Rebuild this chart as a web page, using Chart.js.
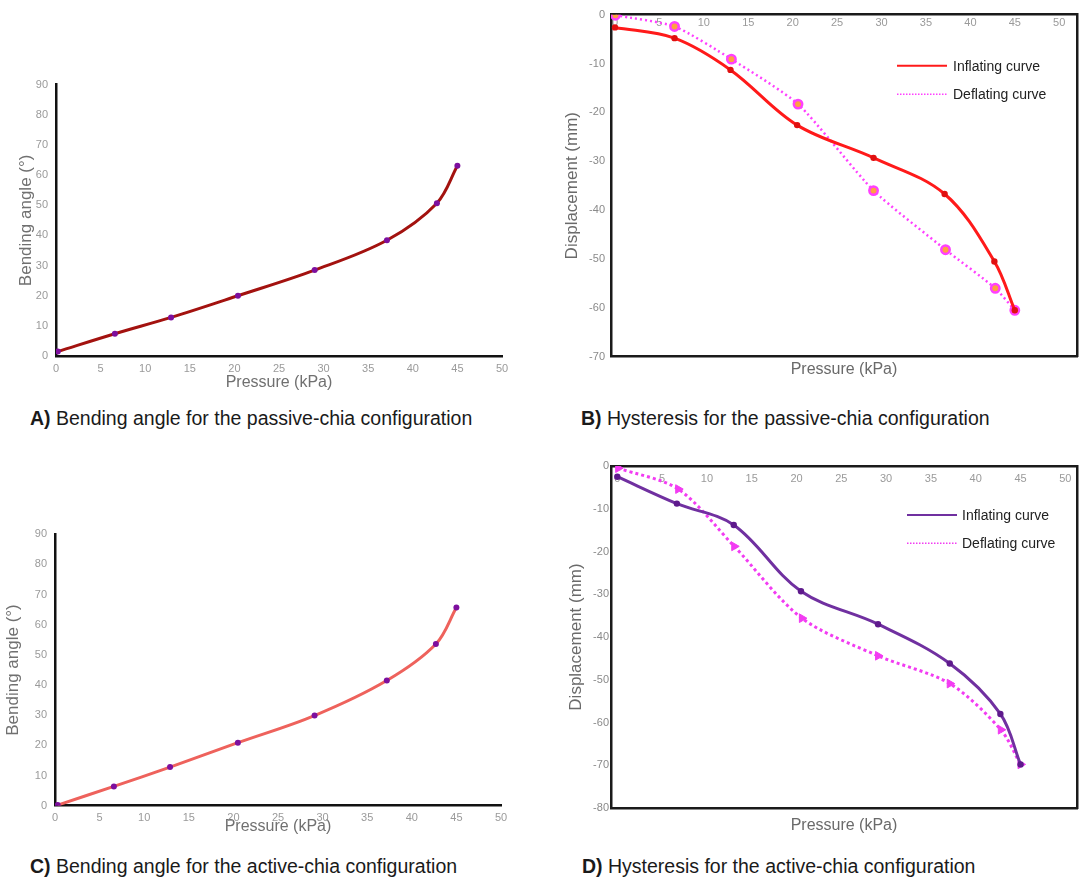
<!DOCTYPE html>
<html><head><meta charset="utf-8">
<script src="https://cdn.jsdelivr.net/npm/chart.js@4/dist/chart.umd.min.js"></script>
<style>
html,body{margin:0;padding:0;background:#fff;width:1087px;height:882px;overflow:hidden;font-family:"Liberation Sans",Arial,sans-serif;}
canvas{position:absolute;}
.cap{position:absolute;font-size:19.5px;color:#1a1a1a;white-space:nowrap;line-height:22px;}
</style></head><body>
<canvas id="cA" width="540" height="340" style="left:0;top:60px"></canvas>
<canvas id="cB" width="527" height="390" style="left:560px;top:0"></canvas>
<canvas id="cC" width="540" height="340" style="left:0;top:500px"></canvas>
<canvas id="cD" width="527" height="390" style="left:560px;top:450px"></canvas>
<div class="cap" style="left:30px;top:407px"><b>A)</b> Bending angle for the passive-chia configuration</div>
<div class="cap" style="left:581px;top:407px"><b>B)</b> Hysteresis for the passive-chia configuration</div>
<div class="cap" style="left:30px;top:855px"><b>C)</b> Bending angle for the active-chia configuration</div>
<div class="cap" style="left:582px;top:855px"><b>D)</b> Hysteresis for the active-chia configuration</div>
<script>
// ---- data ----
const pressureTicks = [0, 5, 10, 15, 20, 25, 30, 35, 40, 45, 50];
const angleTicks = [0, 10, 20, 30, 40, 50, 60, 70, 80, 90];
const dispTicksB = [0, -10, -20, -30, -40, -50, -60, -70];
const dispTicksD = [0, -10, -20, -30, -40, -50, -60, -70, -80];

const pressureA = [0.2, 6.6, 12.9, 20.4, 29.0, 37.1, 42.7, 45.0];
const angleA = [1.5, 7.4, 12.8, 20.0, 28.5, 38.4, 50.7, 63.1];

const pressureC = [0.3, 6.6, 12.9, 20.5, 29.1, 37.2, 42.7, 45.0];
const angleC = [0.2, 6.4, 12.8, 20.9, 29.9, 41.5, 53.6, 65.7];

const pressureBInf = [0, 6.7, 13.0, 20.5, 29.1, 37.1, 42.7, 45.0];
const dispBInf = [-2.6, -4.8, -11.3, -22.6, -29.3, -36.7, -50.5, -60.5];
const pressureBDef = [0.05, 6.7, 13.1, 20.6, 29.1, 37.2, 42.8, 45.0];
const dispBDef = [-0.1, -2.4, -9.1, -18.3, -36.0, -48.1, -56.0, -60.5];

const pressureDInf = [0, 6.65, 13.0, 20.5, 29.1, 37.1, 42.75, 45.0];
const dispDInf = [-2.5, -8.8, -13.8, -29.3, -37.0, -46.2, -58.0, -69.8];
const pressureDDef = [0.1, 6.8, 13.05, 20.6, 29.1, 37.1, 42.8, 45.0];
const dispDDef = [-0.5, -5.4, -18.8, -35.6, -44.4, -50.9, -61.7, -69.8];

const seriesLabels = ['Inflating curve', 'Deflating curve'];

// ---- helpers ----
const FONT = "'Liberation Sans', Arial, sans-serif";
Chart.defaults.font.family = FONT;
Chart.defaults.animation = false;

const pts = (xs, ys) => xs.map((x, i) => ({x: x, y: ys[i]}));
const fixTicks = arr => (s => { s.ticks = arr.map(v => ({value: v})); });

const insideLegend = {
  id: 'insideLegend',
  afterDatasetsDraw(chart, args, opts) {
    if (!opts || !opts.show) return;
    const {ctx, chartArea} = chart;
    const x0 = chartArea.right - opts.dx;
    ctx.save();
    chart.data.datasets.forEach((ds, i) => {
      const y = chartArea.top + opts.dy + i * opts.gap;
      ctx.beginPath();
      ctx.strokeStyle = ds.borderColor;
      ctx.lineWidth = i === 0 ? 2 : 1.6;
      ctx.setLineDash(i === 0 ? [] : [1.5, 1.5]);
      ctx.moveTo(x0, y); ctx.lineTo(x0 + opts.len, y); ctx.stroke();
      ctx.setLineDash([]);
      ctx.fillStyle = '#222';
      ctx.font = '14px ' + FONT;
      ctx.textBaseline = 'middle';
      ctx.textAlign = 'left';
      ctx.fillText(ds.label, x0 + opts.textGap, y + 1);
    });
    ctx.restore();
  }
};

function angleChart(id, xs, ys, lineColor, pointColor, pad, yW, xH, yTitlePad) {
  return new Chart(document.getElementById(id), {
    type: 'line',
    data: { datasets: [{
      data: pts(xs, ys), borderColor: lineColor, borderWidth: 3,
      pointRadius: 3, pointBackgroundColor: pointColor, pointBorderColor: pointColor, pointBorderWidth: 0,
      tension: 0.35, fill: false
    }]},
    options: {
      responsive: false, animation: false,
      layout: { padding: pad },
      plugins: { legend: {display: false}, tooltip: {enabled: false} },
      scales: {
        x: { type: 'linear', min: 0, max: 50, position: 'bottom',
          afterBuildTicks: fixTicks(pressureTicks),
          afterFit: s => { s.height = xH; },
          grid: {display: false, drawTicks: false},
          border: {display: true, color: '#111', width: 2.5},
          ticks: {color: '#9a9a9a', font: {size: 11}, padding: 6, maxRotation: 0, autoSkip: false},
          title: {display: true, text: 'Pressure (kPa)', color: '#707070', font: {size: 16}, padding: {top: 0, bottom: 0}}
        },
        y: { type: 'linear', min: 0, max: 90, position: 'left',
          afterBuildTicks: fixTicks(angleTicks),
          afterFit: s => { s.width = yW; },
          grid: {display: false, drawTicks: false},
          border: {display: true, color: '#111', width: 2.5},
          ticks: {color: '#9a9a9a', font: {size: 11}, padding: 8, autoSkip: false},
          title: {display: true, text: 'Bending angle (°)', color: '#707070', font: {size: 17}, padding: {top: yTitlePad, bottom: 0}}
        }
      }
    }
  });
}

function hystChart(id, dsets, yMin, yTicks, xMin, xMax, pad, yW, xH, yTitlePad, yTickPad, xTickPad, legendOpts) {
  return new Chart(document.getElementById(id), {
    type: 'line',
    data: { datasets: dsets },
    options: {
      responsive: false, animation: false,
      layout: { padding: pad },
      plugins: { legend: {display: false}, tooltip: {enabled: false}, insideLegend: legendOpts },
      scales: {
        x: { type: 'linear', min: xMin, max: xMax, position: {y: 0},
          afterBuildTicks: fixTicks(pressureTicks),
          grid: {display: false, drawTicks: false},
          border: {display: true, color: '#1a1a1a', width: 2.5},
          ticks: {color: '#9a9a9a', font: {size: 11}, padding: xTickPad, maxRotation: 0, autoSkip: false}
        },
        y: { type: 'linear', min: yMin, max: 0, position: 'left',
          afterBuildTicks: fixTicks(yTicks),
          afterFit: s => { s.width = yW; },
          grid: {display: false, drawTicks: false},
          border: {display: true, color: '#1a1a1a', width: 2.5},
          ticks: {color: '#8a8a8a', font: {size: 11}, padding: yTickPad, autoSkip: false},
          title: {display: true, text: 'Displacement (mm)', color: '#6a6a6a', font: {size: 17}, padding: {top: yTitlePad, bottom: 0}}
        },
        x2: { type: 'linear', position: 'bottom',
          afterFit: s => { s.height = xH; },
          grid: {display: false, drawTicks: false},
          border: {display: true, color: '#1a1a1a', width: 2.5},
          ticks: {display: false},
          title: {display: true, text: 'Pressure (kPa)', color: '#6a6a6a', font: {size: 16}, padding: {top: 0, bottom: 0}}
        },
        y2: { type: 'linear', position: 'right',
          afterFit: s => { s.width = 0; },
          grid: {display: false, drawTicks: false},
          border: {display: true, color: '#1a1a1a', width: 2.5},
          ticks: {display: false}
        }
      }
    },
    plugins: [insideLegend]
  });
}

angleChart('cA', pressureA, angleA, '#a3120f', '#7d0f9e',
  {left: 0, top: 24.7, right: 38, bottom: 8}, 56, 36, 15.8);
angleChart('cC', pressureC, angleC, '#ee625c', '#7d0f9e',
  {left: 0, top: 34.3, right: 39, bottom: 4.3}, 55, 30, 2.8);

hystChart('cB', [
  { label: seriesLabels[0], data: pts(pressureBInf, dispBInf), xAxisID: 'x', yAxisID: 'y',
    borderColor: '#ff1a1a', borderWidth: 3, tension: 0.35,
    pointRadius: 3.2, pointBackgroundColor: '#e01010', pointBorderColor: '#e01010', pointBorderWidth: 0 },
  { label: seriesLabels[1], data: pts(pressureBDef, dispBDef), xAxisID: 'x', yAxisID: 'y',
    borderColor: '#ff40ff', borderWidth: 2.5, borderDash: [2, 3], tension: 0.2,
    pointRadius: 4.2, pointBackgroundColor: '#ffa040', pointBorderColor: '#ff40ff', pointBorderWidth: 2.5 }
], -70, dispTicksB, -0.45, 52, {left: 0, top: 14.7, right: 10, bottom: 10.4}, 51, 22.9, 2.5, 6, 1.5,
  {show: true, dx: 180, dy: 51, gap: 28.6, len: 50, textGap: 56});

hystChart('cD', [
  { label: seriesLabels[0], data: pts(pressureDInf, dispDInf), xAxisID: 'x', yAxisID: 'y',
    borderColor: '#7030a0', borderWidth: 3, tension: 0.35,
    pointRadius: 3.2, pointBackgroundColor: '#5e1a8c', pointBorderColor: '#5e1a8c', pointBorderWidth: 0 },
  { label: seriesLabels[1], data: pts(pressureDDef, dispDDef), xAxisID: 'x', yAxisID: 'y',
    borderColor: '#f23cf2', borderWidth: 3, borderDash: [3, 3], tension: 0.3,
    pointStyle: 'triangle', pointRotation: 90, pointRadius: 5,
    pointBackgroundColor: '#f23cf2', pointBorderColor: '#f23cf2', pointBorderWidth: 1 }
], -80, dispTicksD, -0.7, 51.3, {left: 0, top: 16, right: 10, bottom: 4.7}, 51, 27.3, 6.5, 2, 6.4,
  {show: true, dx: 170, dy: 49, gap: 28.3, len: 50, textGap: 55});
</script>
</body></html>
